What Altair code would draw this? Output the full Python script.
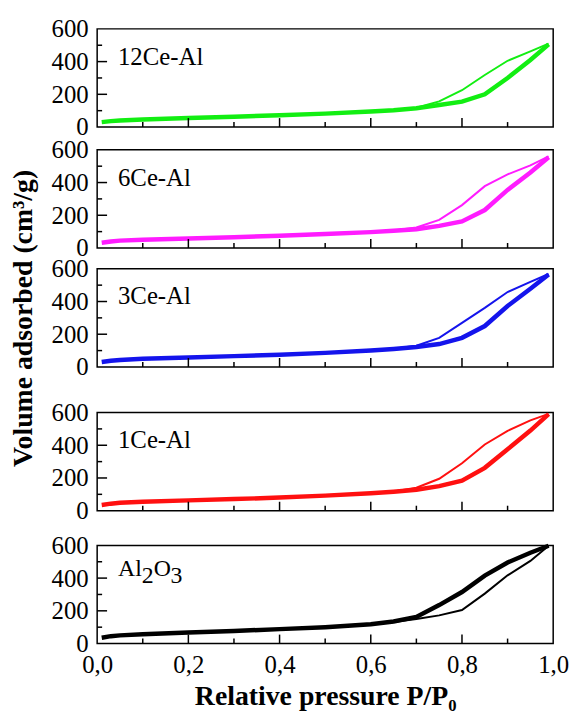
import altair as alt
import pandas as pd

# Relative pressure grids
p_thick = [0.01, 0.03, 0.05, 0.1, 0.2, 0.3, 0.4, 0.5, 0.6, 0.65, 0.7, 0.75, 0.8, 0.85, 0.9, 0.95, 0.99]
p_thin = [0.99, 0.95, 0.9, 0.85, 0.8, 0.75, 0.7, 0.65, 0.6]

# Volume adsorbed (cm3/g) per sample: thick branch and thin branch
v12_thick = [30, 36, 40, 46, 55, 63, 72, 82, 95, 103, 115, 135, 155, 200, 300, 410, 505]
v12_thin = [510, 462, 405, 318, 225, 157, 118, 103, 95]

v6_thick = [32, 40, 45, 50, 58, 66, 75, 85, 97, 105, 115, 135, 162, 232, 355, 462, 555]
v6_thin = [560, 505, 450, 378, 262, 172, 125, 107, 97]

v3_thick = [30, 38, 43, 50, 58, 66, 75, 86, 100, 110, 122, 140, 178, 250, 372, 478, 565]
v3_thin = [568, 520, 458, 361, 269, 178, 130, 112, 100]

v1_thick = [35, 43, 48, 55, 63, 71, 80, 92, 106, 116, 128, 150, 184, 262, 375, 490, 590]
v1_thin = [592, 552, 488, 405, 290, 195, 140, 118, 106]

val_thick = [35, 45, 50, 57, 67, 77, 88, 100, 118, 135, 163, 235, 315, 415, 495, 555, 598]
val_thin = [598, 505, 417, 305, 205, 172, 150, 132, 118]

x_tick_values = [0.0, 0.2, 0.4, 0.6, 0.8, 1.0]
y_tick_values = [0, 200, 400, 600]
x_major_ticks = [0.2, 0.4, 0.6, 0.8]
x_minor_ticks = [0.1, 0.3, 0.5, 0.7, 0.9]
y_major_ticks = [200, 400]
y_minor_ticks = [100, 300, 500]

W, H = 460, 99
SERIF = "Liberation Serif, Times New Roman, serif"
xs = alt.Scale(domain=[0, 1], nice=False, zero=False)
ys = alt.Scale(domain=[0, 600], nice=False)


def panel(label_parts, color, vt, vn, bottom=False, ytitle=False):
    if bottom:
        xaxis = alt.Axis(values=x_tick_values,
                         labelExpr="replace(format(datum.value, '.1f'), '.', ',')",
                         title="Relative pressure P/P\u2080", labelPadding=9,
                         titlePadding=6, labelFlush=False)
    else:
        xaxis = None
    yaxis = alt.Axis(values=y_tick_values, labelPadding=9, labelFontSize=25,
                     title="Volume adsorbed (cm\u00b3/g)" if ytitle else None,
                     titlePadding=14)
    X = alt.X("p:Q", scale=xs, axis=xaxis)
    Y = alt.Y("v:Q", scale=ys, axis=yaxis)

    thick = alt.Chart(pd.DataFrame({"p": p_thick, "v": vt})).mark_line(
        color=color, strokeWidth=4.5).encode(x=X, y=Y, order="p:Q")
    thin = alt.Chart(pd.DataFrame({"p": p_thin, "v": vn})).mark_line(
        color=color, strokeWidth=2).encode(x=X, y=Y, order="p:Q")

    xmaj = alt.Chart(pd.DataFrame({"p": x_major_ticks})).mark_rule(
        color="black", strokeWidth=1.5).encode(x=X, y=alt.value(H), y2=alt.value(H - 9))
    xmin = alt.Chart(pd.DataFrame({"p": x_minor_ticks})).mark_rule(
        color="black", strokeWidth=1.5).encode(x=X, y=alt.value(H), y2=alt.value(H - 5))
    ymaj = alt.Chart(pd.DataFrame({"v": y_major_ticks})).mark_rule(
        color="black", strokeWidth=1.5).encode(y=Y, x=alt.value(0), x2=alt.value(10))
    ymin = alt.Chart(pd.DataFrame({"v": y_minor_ticks})).mark_rule(
        color="black", strokeWidth=1.5).encode(y=Y, x=alt.value(0), x2=alt.value(5))

    texts = []
    for txt, xpos, ypos, size in label_parts:
        texts.append(alt.Chart(pd.DataFrame({"t": [txt]})).mark_text(
            font=SERIF, fontSize=size, color="black", align="left",
            baseline="middle").encode(
            text="t:N", x=alt.value(xpos), y=alt.value(ypos)))

    return alt.layer(thin, thick, xmaj, xmin, ymaj, ymin, *texts).properties(
        width=W, height=H)


def spacer(h):
    return alt.Chart(pd.DataFrame({"a": [0]})).mark_point(opacity=0).encode(
        x=alt.value(0), y=alt.value(0)).properties(
        width=W, height=h, view=alt.ViewBackground(stroke="transparent"))


p1 = panel([("12Ce-Al", 21, 28, 25)], "#12ee12", v12_thick, v12_thin)
p2 = panel([("6Ce-Al", 21, 28, 25)], "#ff1cff", v6_thick, v6_thin)
p3 = panel([("3Ce-Al", 21, 28, 25)], "#1414ec", v3_thick, v3_thin, ytitle=True)
p4 = panel([("1Ce-Al", 21, 28, 25)], "#ff1010", v1_thick, v1_thin)
p5 = panel([("Al", 21, 24, 24), ("2", 45, 31, 24), ("O", 57, 24, 24), ("3", 74, 31, 24)],
           "#000000", val_thick, val_thin, bottom=True)

chart = alt.vconcat(
    p1, spacer(23), p2, spacer(21), p3, spacer(46), p4, spacer(35), p5,
    spacing=0, bounds="flush"
).properties(
    padding={"left": 8, "top": 13, "right": 5, "bottom": 5}
).configure_axis(
    domain=False, ticks=False, grid=False,
    labelFont=SERIF, labelFontSize=25, labelColor="black",
    titleFont=SERIF, titleFontWeight="bold", titleFontSize=28, titleColor="black"
).configure_view(stroke="black", strokeWidth=1.5)

chart.save("out.html", embed_options={"renderer": "svg", "actions": False})
